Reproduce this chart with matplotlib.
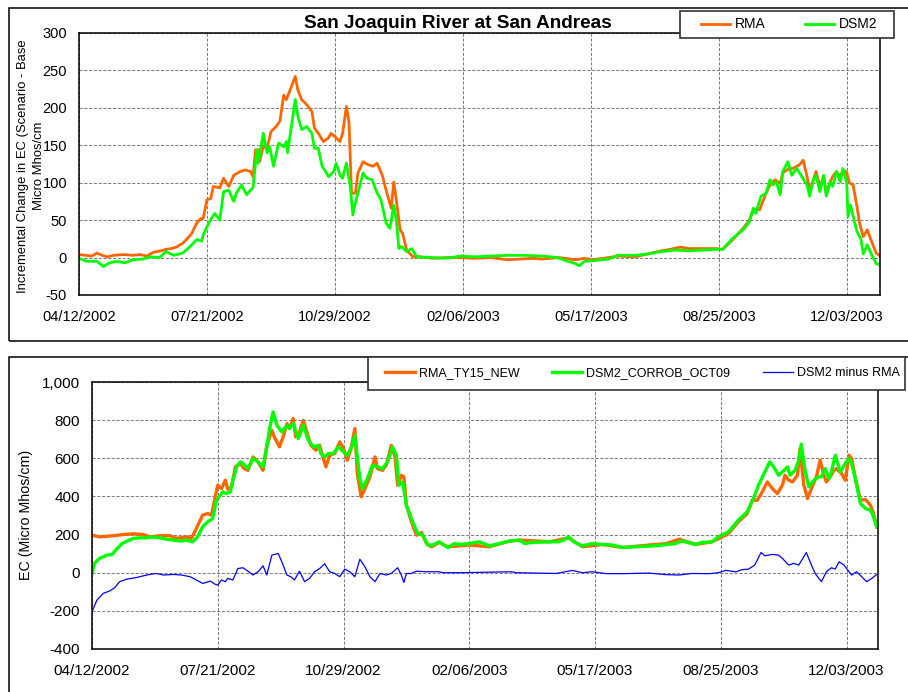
import numpy as np
import matplotlib
matplotlib.use('Agg')
import matplotlib.pyplot as plt
import matplotlib.dates as mdates
from matplotlib.patches import Rectangle
from matplotlib.ticker import FuncFormatter

plt.rcParams['font.family'] = ['Liberation Sans', 'DejaVu Sans']

start = np.datetime64('2002-04-12')

# incremental change (scenario - base), day offsets from start
rma_inc_day = [0, 5, 10, 14, 18, 22, 27, 35, 42, 48, 53, 58, 64, 68, 72, 76, 81, 85, 88, 92,
               95, 97, 100, 103, 105, 108, 110, 113, 117, 121, 126, 130, 134, 136, 138, 140, 141, 144, 147, 150,
               154, 157, 160, 162, 165, 169, 171, 174, 177, 179, 182, 184, 187, 191, 195, 197, 201, 204, 206, 209,
               211, 213, 216, 218, 222, 226, 230, 233, 237, 240, 244, 246, 248, 251, 253, 256, 261, 266, 277, 287,
               298, 309, 322, 335, 345, 355, 362, 375, 380, 388, 395, 401, 414, 421, 434, 445, 455, 462, 470, 477,
               488, 498, 503, 511, 519, 524, 527, 532, 536, 540, 544, 548, 550, 553, 556, 558, 561, 563, 566, 569,
               571, 574, 576, 579, 582, 584, 587, 589, 592, 595, 597, 600, 602, 605, 608, 610, 613, 616, 620, 623, 626]
rma_inc = [4, 3, 2, 6, 3, 1, 3, 4, 3, 4, 2, 7, 9, 11, 12, 14, 19, 26, 32, 46,
           52, 52, 77, 79, 95, 94, 93, 106, 95, 110, 115, 117, 115, 108, 144, 144, 128, 148, 146, 168,
           175, 182, 217, 211, 224, 242, 224, 211, 206, 202, 195, 173, 166, 155, 160, 166, 160, 155, 166, 202,
           180, 86, 86, 113, 128, 124, 122, 126, 110, 90, 66, 101, 77, 37, 32, 10, 1, 1, -1, 0,
           0, -1, 0, -3, -2, -1, -2, 0, -1, -3, -1, -3, 0, 2, 1, 5, 9, 11, 14, 12,
           12, 12, 11, 24, 39, 50, 64, 64, 82, 97, 104, 99, 113, 117, 119, 119, 122, 124, 130, 108,
           90, 104, 115, 95, 108, 86, 101, 108, 115, 108, 117, 114, 100, 97, 68, 46, 28, 37, 19, 6, 2]

dsm2_inc_day = [0, 6, 14, 19, 24, 29, 36, 42, 50, 56, 63, 68, 74, 81, 87, 92, 96, 97, 102, 106,
                110, 113, 117, 121, 123, 127, 131, 134, 136, 139, 140, 144, 147, 149, 152, 156, 160, 162, 163, 166,
                169, 171, 174, 178, 182, 184, 187, 190, 192, 195, 199, 201, 204, 206, 209, 212, 214, 216, 219, 222,
                225, 229, 233, 236, 240, 243, 246, 248, 250, 252, 256, 260, 264, 277, 287, 298, 309, 322, 335, 348,
                362, 374, 380, 388, 391, 395, 403, 414, 421, 434, 445, 455, 466, 477, 488, 498, 503, 511, 519, 524,
                527, 529, 533, 537, 540, 542, 545, 548, 550, 554, 557, 561, 565, 569, 571, 574, 576, 579, 582, 584,
                587, 589, 592, 595, 597, 600, 601, 603, 606, 608, 611, 613, 616, 620, 623, 626]
dsm2_inc = [-1, -5, -5, -12, -7, -5, -7, -3, -2, 1, 0, 8, 3, 6, 15, 24, 22, 30, 48, 59,
            50, 88, 90, 75, 86, 97, 84, 90, 93, 144, 126, 166, 140, 148, 122, 153, 148, 155, 140, 175,
            211, 189, 171, 175, 166, 146, 146, 122, 117, 108, 115, 126, 110, 106, 126, 95, 57, 73, 93, 113,
            106, 104, 86, 77, 46, 39, 70, 50, 12, 15, 8, 12, 1, 0, -1, 2, 1, 2, 3, 3,
            2, 0, -4, -8, -11, -5, -4, -2, 3, 3, 5, 8, 10, 9, 10, 11, 11, 26, 37, 48,
            66, 59, 82, 86, 104, 97, 101, 84, 115, 128, 110, 119, 108, 97, 82, 104, 110, 88, 110, 82,
            101, 95, 115, 101, 119, 100, 55, 70, 48, 35, 25, 5, 17, 2, -8, -10]

# EC at San Andreas
rma_ec_day = [0, 6, 17, 25, 33, 41, 46, 54, 62, 67, 75, 79, 83, 88, 92, 95, 98, 100, 103, 106,
              108, 111, 114, 118, 121, 124, 128, 132, 136, 139, 143, 145, 149, 152, 155, 157, 160, 162, 165, 168,
              170, 174, 178, 181, 184, 186, 189, 193, 197, 200, 203, 206, 209, 211, 214, 217, 221, 225, 227, 231,
              234, 238, 241, 243, 246, 248, 250, 254, 258, 262, 266, 270, 276, 283, 300, 316, 332, 340, 364, 379,
              390, 406, 422, 443, 457, 467, 480, 493, 506, 514, 521, 525, 529, 533, 537, 541, 545, 549, 551, 554,
              557, 561, 563, 566, 569, 572, 576, 579, 582, 584, 587, 590, 592, 596, 599, 602, 604, 607, 611, 615,
              619, 621, 624]
rma_ec = [197, 188, 194, 200, 204, 200, 188, 194, 194, 180, 188, 180, 232, 302, 310, 302, 398, 459, 441, 485,
          438, 450, 555, 572, 546, 537, 607, 581, 537, 668, 747, 712, 660, 712, 782, 756, 808, 712, 738, 799,
          756, 668, 642, 668, 599, 555, 616, 625, 686, 651, 590, 651, 756, 520, 398, 441, 503, 607, 546, 537,
          564, 668, 607, 459, 511, 503, 354, 267, 197, 211, 153, 136, 159, 136, 145, 136, 166, 171, 162, 183,
          136, 148, 132, 145, 153, 176, 148, 162, 204, 267, 310, 380, 380, 424, 476, 441, 415, 459, 511, 485,
          476, 511, 651, 459, 389, 441, 503, 590, 511, 476, 503, 537, 546, 520, 485, 616, 599, 494, 380, 384,
          354, 319, 241]

dsm2_ec_day = [0, 2, 6, 12, 16, 20, 24, 28, 33, 38, 43, 49, 54, 59, 65, 70, 75, 80, 84, 88,
               92, 96, 99, 102, 104, 107, 110, 112, 115, 118, 120, 124, 128, 132, 136, 139, 141, 144, 147, 151,
               155, 157, 160, 164, 168, 172, 176, 180, 182, 185, 188, 192, 196, 200, 203, 207, 209, 213, 215, 219,
               223, 227, 231, 235, 239, 242, 244, 247, 250, 255, 259, 263, 267, 271, 276, 283, 288, 292, 300, 308,
               316, 324, 332, 340, 344, 350, 364, 371, 375, 379, 383, 390, 398, 406, 414, 422, 432, 443, 453, 464,
               469, 480, 485, 493, 498, 506, 514, 521, 526, 530, 535, 539, 542, 546, 549, 553, 555, 559, 562, 564,
               567, 570, 574, 578, 580, 583, 586, 588, 591, 595, 599, 602, 604, 607, 611, 615, 619, 621, 624]
dsm2_ec = [-4, 49, 75, 92, 96, 127, 153, 166, 180, 183, 183, 187, 183, 176, 171, 166, 171, 162, 188, 241,
           267, 284, 380, 406, 424, 415, 424, 485, 555, 581, 572, 546, 599, 581, 555, 660, 747, 843, 773, 738,
           773, 756, 782, 703, 773, 695, 660, 668, 625, 607, 625, 625, 660, 633, 616, 668, 721, 494, 441, 494,
           564, 555, 546, 581, 660, 616, 459, 476, 354, 267, 206, 197, 145, 145, 162, 131, 153, 148, 153, 162,
           141, 153, 166, 171, 153, 159, 162, 162, 171, 188, 162, 141, 153, 148, 145, 132, 136, 139, 145, 153,
           166, 148, 159, 162, 188, 214, 276, 319, 389, 459, 529, 581, 555, 511, 529, 555, 511, 537, 590, 674,
           537, 450, 485, 503, 503, 546, 494, 529, 616, 529, 572, 599, 572, 494, 363, 337, 328, 302, 241]

diff_ec_day = [0, 4, 9, 14, 18, 22, 28, 35, 41, 46, 51, 57, 65, 71, 78, 83, 88, 94, 98, 100,
               103, 106, 108, 112, 116, 120, 124, 128, 132, 136, 139, 143, 148, 151, 155, 158, 161, 165, 169, 173,
               177, 181, 185, 189, 193, 197, 201, 205, 209, 213, 217, 221, 225, 229, 234, 238, 243, 246, 248, 250,
               254, 258, 266, 276, 279, 292, 334, 337, 369, 382, 390, 398, 409, 422, 443, 456, 467, 477, 491, 498,
               504, 512, 517, 522, 527, 532, 535, 541, 546, 549, 554, 558, 562, 566, 568, 571, 575, 580, 584, 588,
               591, 594, 598, 602, 604, 608, 612, 616, 620, 624]
diff_ec = [-204, -143, -108, -96, -79, -47, -33, -26, -16, -9, -4, -12, -9, -12, -21, -38, -56, -44, -61, -65,
           -38, -47, -30, -38, 22, 26, 8, -12, 5, 36, -12, 92, 101, 57, -12, -21, -38, 8, -47, -30,
           5, 22, 47, 5, -4, -21, 19, 5, -21, 71, 31, -21, -47, -4, -12, -4, 26, -12, -51, -4,
           -4, 8, 5, 5, 0, 0, 5, 0, -4, 12, 0, 5, -5, -5, -2, -10, -12, -4, -5, 0,
           12, 5, 16, 19, 40, 106, 89, 96, 92, 75, 40, 49, 40, 84, 106, 57, -4, -47, 5, 26,
           19, 57, 40, 5, -12, 5, -21, -47, -30, -9]

tick_days = [0, 100, 200, 300, 400, 500, 600]


def to_dates(days):
    return start + np.array(days).astype('timedelta64[D]')


fig = plt.figure(figsize=(9.08, 6.92), dpi=100)
W, H = 908.0, 692.0


def axes_px(left, top, right, bottom):
    return fig.add_axes([left / W, 1 - bottom / H, (right - left) / W, (bottom - top) / H])


def style_axes(ax, ymin, ymax, ystep, xmax_day, fs, xpad):
    ax.set_ylim(ymin, ymax)
    ax.set_yticks(np.arange(ymin, ymax + 1, ystep))
    ax.set_xlim(to_dates([0])[0], to_dates([xmax_day])[0])
    ax.set_xticks(to_dates(tick_days))
    ax.xaxis.set_major_formatter(mdates.DateFormatter('%m/%d/%Y'))
    ax.yaxis.set_major_formatter(FuncFormatter(lambda v, p: f'{int(v):,}'))
    ax.grid(True, color='#808080', linestyle=(0, (3, 1.6)), linewidth=0.75)
    ax.set_axisbelow(True)
    ax.tick_params(axis='both', length=0, labelsize=fs, colors='black')
    ax.tick_params(axis='x', pad=xpad)
    ax.tick_params(axis='y', pad=8.6)
    for s in ax.spines.values():
        s.set_color('black')
        s.set_linewidth(1.1)


# outer chart frames
fig.patches.append(Rectangle((9 / W, 1 - 341 / H), 910 / W, 333 / H, transform=fig.transFigure,
                             fill=False, edgecolor='black', linewidth=1.1, zorder=3))
fig.patches.append(Rectangle((9 / W, -0.05), 910 / W, (692 - 357) / H + 0.05, transform=fig.transFigure,
                             fill=False, edgecolor='black', linewidth=1.1, zorder=3))

# upper panel
ax1 = axes_px(79, 33, 880, 295)
l1, = ax1.plot(to_dates(rma_inc_day), rma_inc, color='#FF6600', linewidth=2.0)
l2, = ax1.plot(to_dates(dsm2_inc_day), dsm2_inc, color='#00FF00', linewidth=2.0)
style_axes(ax1, -50, 300, 50, 626, 10.5, 10.5)
fig.text(31 / W, 1 - 166 / H, 'Incremental Change in EC (Scenario - Base\nMicro Mhos/cm',
         rotation=90, ha='center', va='center', multialignment='center', fontsize=9.4, linespacing=1.35)
fig.text(458 / W, 1 - 23 / H, 'San Joaquin River at San Andreas', ha='center', va='center',
         fontsize=13.7, fontweight='bold')

# lower panel
ax2 = axes_px(92, 382, 878, 649)
l3, = ax2.plot(to_dates(rma_ec_day), rma_ec, color='#FF6600', linewidth=2.4)
l4, = ax2.plot(to_dates(dsm2_ec_day), dsm2_ec, color='#00FF00', linewidth=2.4)
l5, = ax2.plot(to_dates(diff_ec_day), diff_ec, color='#0000FF', linewidth=0.9)
style_axes(ax2, -400, 1000, 200, 625, 11, 11)
fig.text(26 / W, 1 - 515 / H, 'EC (Micro Mhos/cm)', rotation=90, ha='center', va='center', fontsize=10.3)

# legend boxes
fig.patches.append(Rectangle((680 / W, 1 - 38 / H), 214 / W, 27 / H, transform=fig.transFigure,
                             facecolor='white', edgecolor='#333333', linewidth=1.2, zorder=4))
fig.patches.append(Rectangle((368 / W, 1 - 390 / H), 537 / W, 33 / H, transform=fig.transFigure,
                             facecolor='white', edgecolor='#333333', linewidth=1.2, zorder=4))

fig.legend([l1, l2], ['RMA', 'DSM2'], loc='center left', bbox_to_anchor=(701 / W, 1 - 24.5 / H),
           ncol=2, frameon=False, fontsize=10, borderpad=0, borderaxespad=0,
           handlelength=2.09, handletextpad=0.36, columnspacing=2.8)
fig.legend([l3, l4, l5], ['RMA_TY15_NEW', 'DSM2_CORROB_OCT09', 'DSM2 minus RMA'], loc='center left',
           bbox_to_anchor=(385 / W, 1 - 373 / H), ncol=3, frameon=False, fontsize=9, borderpad=0,
           borderaxespad=0, handlelength=2.4, handletextpad=0.32, columnspacing=2.6)

fig.savefig('out.png', dpi=100, facecolor='white')
